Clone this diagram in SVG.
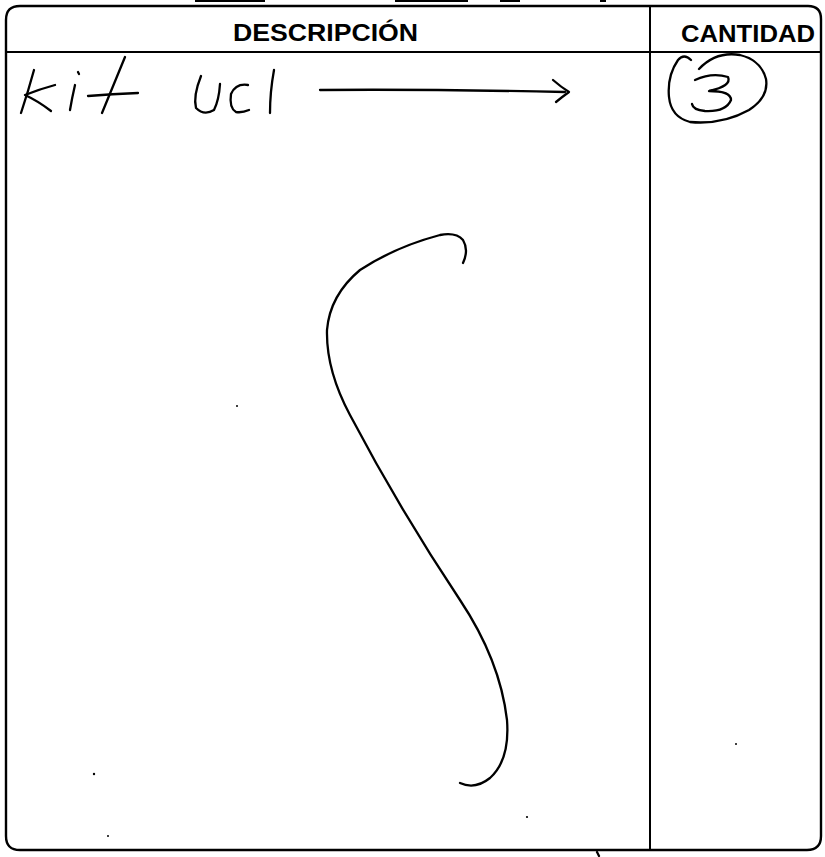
<svg xmlns="http://www.w3.org/2000/svg" width="825" height="857" viewBox="0 0 825 857">
<style>
.frame{fill:none;stroke:#000;stroke-width:2.4}
.rule{stroke:#000;stroke-width:2}
.hd{font-family:"Liberation Sans",Arial,sans-serif;font-weight:bold;font-size:23px;fill:#000}
.ink{fill:none;stroke:#000;stroke-width:2.3;stroke-linecap:round;stroke-linejoin:round}
.speck{fill:#000}
</style>
<rect width="825" height="857" fill="#fff"/>
<g id="scan-marks">
<line class="rule" x1="195" y1="1" x2="265" y2="1"/>
<line class="rule" x1="395" y1="1" x2="468" y2="1"/>
<line class="rule" x1="500" y1="1" x2="520" y2="1"/>
<line class="rule" x1="600" y1="1" x2="606" y2="1"/>
</g>
<g id="table">
<path class="frame" d="M20 6 H808 Q821 6 821 19 V836 Q821 850 807 850 H20 Q6 850 6 836 V20 Q6 6 20 6 Z"/>
<line class="rule" x1="6" y1="52" x2="821" y2="52"/>
<line class="rule" x1="650" y1="6" x2="650" y2="850"/>
</g>
<g id="header-descripcion">
<text class="hd" x="233" y="41" textLength="185" lengthAdjust="spacingAndGlyphs">DESCRIPCIÓN</text>
</g>
<g id="header-cantidad">
<text class="hd" x="681" y="42" textLength="134" lengthAdjust="spacingAndGlyphs">CANTIDAD</text>
</g>
<g id="handwriting-kit-uci">
<path class="ink" d="M34 70 Q28 92 21 113"/>
<path class="ink" d="M55 85 Q40 89 25 95 Q38 101 51 111"/>
<path class="ink" d="M78 72 l1 2"/>
<path class="ink" d="M75 85 Q72 98 70 110"/>
<path class="ink" d="M125 57 Q113 86 102 113"/>
<path class="ink" d="M88 96 Q112 94 138 93"/>
<path class="ink" d="M201 76 Q193 96 196 108 Q204 116 214 110 Q219 100 220 84"/>
<path class="ink" d="M248 85 Q236 83 231 94 Q229 108 236 112 Q242 113 249 110"/>
<path class="ink" d="M274 70 Q270 92 270 113"/>
</g>
<g id="arrow">
<path class="ink" d="M320 90 Q420 89 565 92"/>
<path class="ink" d="M553 80 Q561 87 569 92 Q562 97 556 102"/>
</g>
<g id="quantity-3">
<path class="ink" d="M691 60 Q684 53 678 60 Q667 76 669 97 Q671 117 690 122 Q722 125 749 110 Q769 97 766 79 Q761 60 740 55 Q716 51 699 69"/>
<path class="ink" d="M695 80 Q712 72 728 77 Q732 86 709 91 Q731 91 731 100 Q726 112 705 111 Q693 110 692 104"/>
</g>
<g id="s-curve">
<path class="ink" d="M463 263 Q469 250 463 240 Q456 232 440 235 Q395 247 360 270 Q330 295 327 330 Q326 370 350 415 Q400 510 460 600 Q500 660 507 720 Q510 760 490 778 Q475 790 460 783"/>
</g>
<g id="specks">
<circle class="speck" cx="94" cy="774" r="1.2"/>
<circle class="speck" cx="527" cy="817" r="1.1"/>
<circle class="speck" cx="237" cy="406" r="1"/>
<circle class="speck" cx="736" cy="744" r="1"/>
<circle class="speck" cx="108" cy="836" r="1"/>
<path class="ink" d="M597 852 l2 4" stroke-width="1.6"/>
</g>
</svg>
